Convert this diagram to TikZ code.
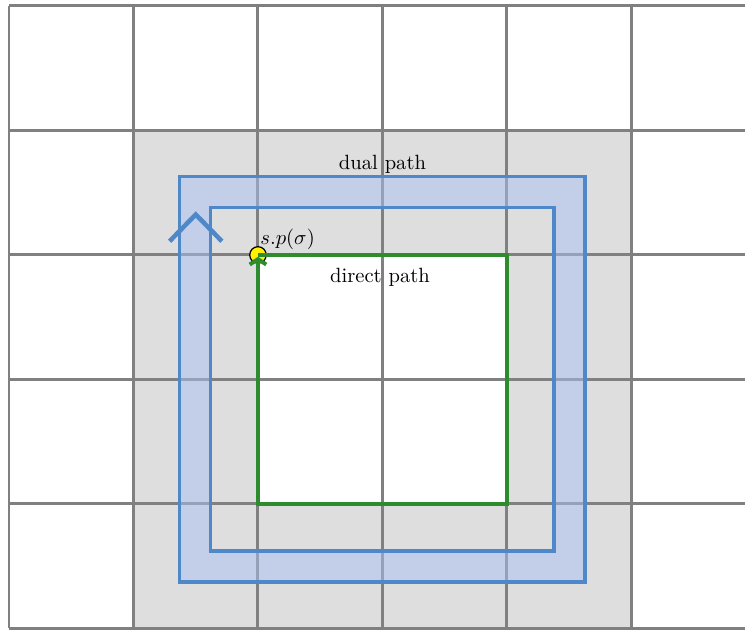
\documentclass[tikz,border=0pt]{standalone}
\usetikzlibrary{arrows.meta}
\definecolor{gridgray}{HTML}{808080}
\definecolor{cellgray}{HTML}{DEDEDE}
\definecolor{dualblue}{HTML}{4F88C8}
\definecolor{dualfill}{HTML}{AAC2F2}
\definecolor{directgreen}{HTML}{2E8B2E}
\tikzset{
  gridline/.style={draw=gridgray, line width=1.45pt},
  dualline/.style={draw=dualblue, line width=1.5pt},
  directline/.style={draw=directgreen, line width=1.9pt},
  lbl/.style={font=\normalsize, inner sep=1pt},
}
\begin{document}
\begin{tikzpicture}[x=60.4pt, y=60.4pt]
\useasboundingbox (-0.0723,-0.012) rectangle (5.912,5.048);
\clip (-0.0723,-0.012) rectangle (5.912,5.048);
% gray region
\fill[cellgray, even odd rule] (1,0) rectangle (5,4) (2,1) rectangle (4,3);
% grid
\foreach \x in {0,...,5} \draw[gridline] (\x,0) -- (\x,5);
\foreach \y in {0,...,5} \draw[gridline] (0,\y) -- (6.2,\y);
% dual path band
\coordinate (oa) at (1.373,0.373);
\coordinate (ob) at (4.627,3.627);
\coordinate (ia) at (1.622,0.622);
\coordinate (ib) at (4.378,3.378);
\fill[dualfill, fill opacity=0.5, even odd rule] (oa) rectangle (ob) (ia) rectangle (ib);
\draw[dualline] (oa) rectangle (ob);
\draw[dualline] (ia) rectangle (ib);
% chevron arrow on dual path
\coordinate (cl) at (1.29,3.11);
\coordinate (ct) at (1.5,3.325);
\coordinate (cr) at (1.71,3.11);
\draw[dualblue, line width=2.2pt] (cl) -- (ct) -- (cr);
\node[lbl] (dual) at (3.0,3.73) {dual path};
% direct path
\coordinate (p1) at (2,3);
\coordinate (p2) at (4,3);
\coordinate (p3) at (4,1);
\coordinate (p4) at (2,1);
\coordinate (pend) at (2,2.985);
\node[circle, draw=black, fill=yellow, line width=0.6pt, minimum size=8pt, inner sep=0pt] (sp) at (p1) {};
\draw[directline, -{Straight Barb[length=2.6pt,width=8pt]}] (p1) -- (p2) -- (p3) -- (p4) -- (pend);
\node[lbl, anchor=south west] (splbl) at (2.0,3.02) {$s.p(\sigma)$};
\node[lbl] (direct) at (2.98,2.823) {direct path};
\end{tikzpicture}
\end{document}
